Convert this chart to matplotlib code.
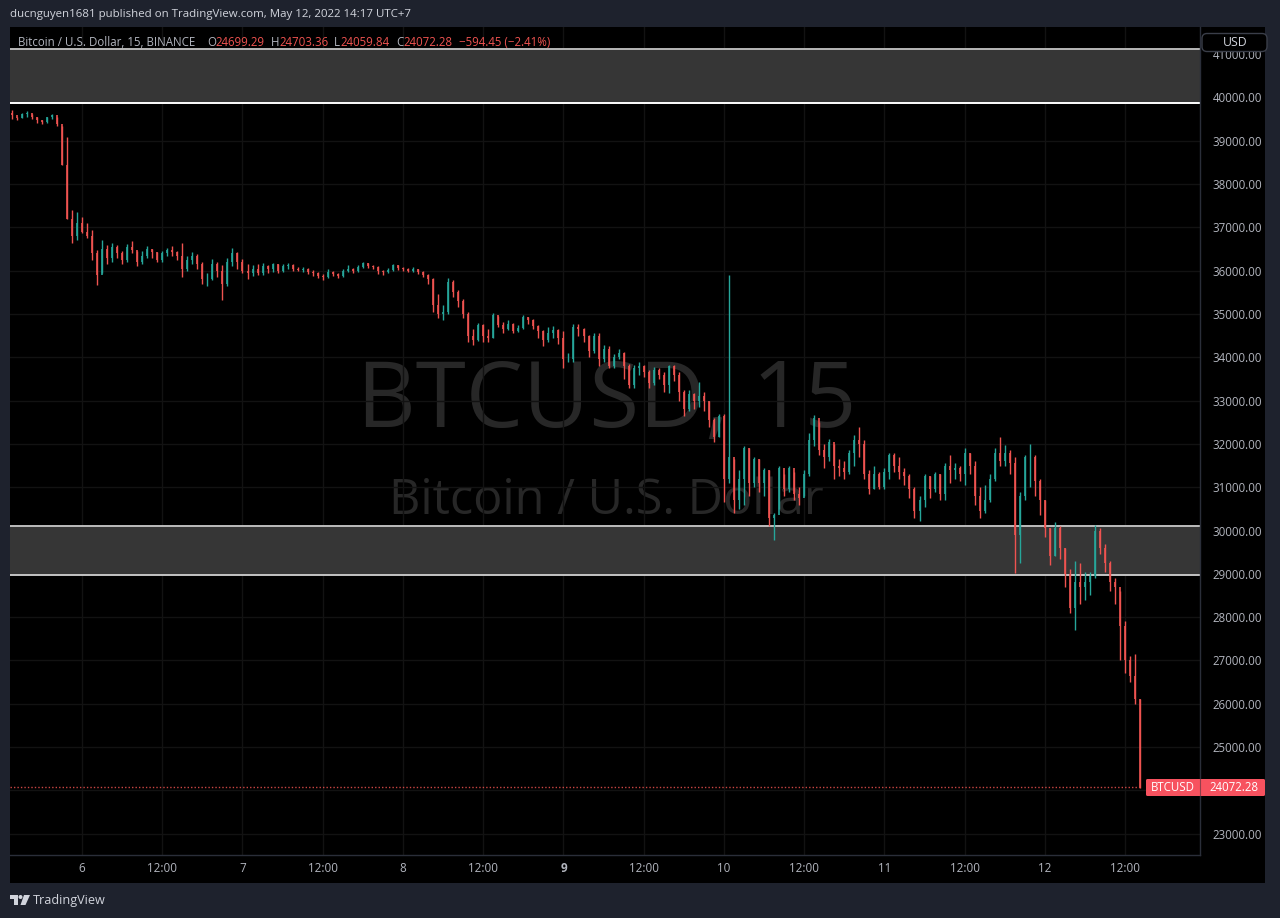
#
# BTCUSD 15 min chart, TradingView dark style
#

import numpy as np
import matplotlib
matplotlib.use("Agg")
import matplotlib.pyplot as plt

plt.rcParams["font.family"] = ["Open Sans", "DejaVu Sans"]

# one bar every 45 minutes, first bar at hour -10.5 (hour 0 = May 6 00:00)
first_hour = -10.5
bar_step = 0.75
first_open = 39650

closes = [
    39590, 39530, 39620, 39650, 39560, 39480, 39440, 39540, 39590, 39380, 38450, 37200, 36800, 37100,
    36900, 36800, 36400, 35900, 36500, 36300, 36550, 36400, 36250, 36550, 36480, 36200, 36350, 36500, 36420, 36250,
    36400, 36480, 36420, 36330, 36050, 36250, 36350, 36150, 35800, 35800, 36150, 36000, 35700, 36200, 36400, 36200,
    36000, 35950, 36050, 35950, 36100, 36050, 36150, 36000, 36100, 36130, 36050, 36020, 36040, 35980, 35950, 35880,
    35850, 35980, 35930, 35870, 36000, 36040, 35990, 36080, 36170, 36110, 36080, 36000, 35960, 36020, 36120, 36060,
    36040, 36000, 36030, 35980, 35900, 35800, 35200, 35000, 35050, 35750, 35500, 35300, 35000, 34500, 34400, 34750,
    34500, 34450, 34980, 34750, 34650, 34780, 34600, 34680, 34920, 34850, 34720, 34600, 34400, 34560, 34620, 34450,
    33950, 33950, 34700, 34650, 34500, 34150, 34500, 33950, 34200, 33800, 34000, 34100, 33800, 33350, 33750, 33800,
    33650, 33400, 33700, 33600, 33350, 33800, 33600, 33200, 32800, 33150, 33000, 33100, 33000, 32550, 32150, 32650,
    31200, 31700, 30700, 31200, 31900, 31100, 31650, 31100, 31400, 30300, 30350, 31450, 30950, 31450, 30850, 30750,
    31300, 32100, 32600, 31850, 31700, 32050, 31500, 31450, 31350, 31800, 32100, 32000, 31300, 30950, 31300, 31000,
    31350, 31750, 31500, 31350, 31250, 30950, 30450, 30700, 31250, 30950, 31300, 30850, 31500, 31400, 31450, 31300,
    31800, 31500, 30800, 30450, 30700, 31200, 31800, 31600, 31800, 31550, 29900, 30800, 31700, 31700, 31150, 30700,
    30050, 29400, 30050, 29600, 29000, 28200, 28800, 28700, 28800, 28950, 30000, 29600, 29250, 28800, 28700, 27800,
    27000, 26650, 26100, 24072.28,
]
highs = [
    39700, 39560, 39640, 39680, 39620, 39540, 39480, 39560, 39620, 39540, 39350, 39080, 37400, 37350,
    37240, 37100, 36950, 36480, 36700, 36600, 36650, 36600, 36450, 36620, 36680, 36450, 36450, 36560, 36500, 36420,
    36450, 36530, 36560, 36450, 36650, 36350, 36420, 36380, 36200, 35950, 36280, 36200, 36120, 36300, 36520, 36440,
    36270, 36150, 36120, 36150, 36170, 36130, 36180, 36150, 36150, 36180, 36150, 36090, 36080, 36060, 36010, 35960,
    35930, 36040, 36000, 35940, 36050, 36120, 36060, 36130, 36200, 36180, 36130, 36110, 36010, 36060, 36160, 36130,
    36080, 36060, 36090, 36040, 36000, 35920, 35820, 35450, 35200, 35820, 35780, 35550, 35350, 35050, 34650, 34800,
    34780, 34650, 35020, 34950, 34820, 34850, 34800, 34750, 34970, 34940, 34880, 34750, 34620, 34700, 34720, 34650,
    34600, 34100, 34780, 34780, 34680, 34520, 34560, 34550, 34280, 34250, 34080, 34180, 34120, 33850, 33820, 33880,
    33830, 33700, 33780, 33760, 33650, 33820, 33830, 33650, 33250, 33250, 33180, 33430, 33200, 33000, 32600, 32700,
    32700, 35900, 31650, 31400, 31950, 31900, 31700, 31650, 31450, 31400, 30400, 31500, 31300, 31500, 31350, 31000,
    31400, 32250, 32670, 32500, 32000, 32120, 32000, 31650, 31600, 31850, 32200, 32380, 32100, 31400, 31500, 31350,
    31450, 31800, 31800, 31700, 31450, 31300, 31000, 30800, 31300, 31250, 31350, 31300, 31550, 31750, 31550, 31500,
    31900, 31800, 31600, 31000, 31050, 31300, 31900, 32170, 31980, 31850, 31700, 30900, 31750, 32000, 31750, 31200,
    30700, 30050, 30200, 30100, 29600, 29100, 29300, 29250, 29050, 29050, 30130, 30050, 29700, 29300, 28900, 28600,
    27900, 27100, 27150, 26100,
]
lows = [
    39500, 39480, 39520, 39560, 39500, 39420, 39380, 39420, 39500, 39350, 38440, 37200, 36640, 36700,
    36870, 36750, 36250, 35670, 35950, 36150, 36200, 36300, 36150, 36200, 36400, 36100, 36150, 36300, 36300, 36200,
    36200, 36350, 36350, 36250, 35850, 36000, 36150, 36050, 35700, 35650, 35780, 35850, 35320, 35650, 36100, 36050,
    35950, 35800, 35880, 35900, 35900, 35950, 35980, 35950, 35980, 36040, 36000, 35990, 35980, 35930, 35880, 35820,
    35780, 35830, 35880, 35820, 35860, 35960, 35950, 35970, 36060, 36060, 36040, 35920, 35900, 35940, 36000, 36020,
    35990, 35960, 35980, 35930, 35860, 35700, 35050, 34900, 34850, 35000, 35400, 35150, 34900, 34350, 34290, 34380,
    34350, 34350, 34450, 34700, 34550, 34620, 34550, 34580, 34650, 34780, 34650, 34450, 34250, 34350, 34450, 34300,
    33750, 33880, 33900, 34500, 34350, 34000, 34100, 33800, 33900, 33750, 33750, 33950, 33500, 33280, 33300, 33600,
    33550, 33300, 33350, 33500, 33200, 33180, 33450, 33000, 32650, 32750, 32800, 32850, 32750, 32400, 32050, 32150,
    30650, 31100, 30400, 30500, 30600, 30800, 31000, 30900, 30800, 30100, 29790, 30500, 30800, 30900, 30700, 30600,
    30800, 31250, 31950, 31750, 31450, 31600, 31200, 31250, 31200, 31300, 31500, 31700, 31200, 30850, 30950, 30950,
    30950, 31200, 31350, 31200, 31050, 30750, 30300, 30220, 30550, 30750, 30900, 30700, 30700, 31100, 31200, 31150,
    31050, 31300, 30600, 30280, 30400, 30650, 31150, 31500, 31500, 31300, 29030, 29250, 30700, 31000, 30800, 30350,
    29850, 29200, 29400, 29350, 28700, 28100, 27700, 28300, 28400, 28500, 28900, 29450, 29050, 28600, 28300, 27000,
    26700, 26500, 26000, 24059.84,
]

price_ticks = list(range(23000, 42000, 1000))
time_ticks = [0, 12, 24, 36, 48, 60, 72, 84, 96, 108, 120, 132, 144, 156]
time_labels = ["6", "12:00", "7", "12:00", "8", "12:00", "9", "12:00", "10", "12:00", "11", "12:00", "12", "12:00"]

upper_zone = (39870, 41118)
lower_zone = (28973, 30104)
last_price = 24072.28

UP = "#26a69a"
DOWN = "#ef5350"
BG = "#1e222d"
TXT = "#b2b5be"

hours = first_hour + bar_step * np.arange(len(closes))
opens = np.array([first_open] + closes[:-1])
closes = np.array(closes)
colors = np.where(closes >= opens, UP, DOWN)

W, H = 1280, 918
fig = plt.figure(figsize=(W / 100, H / 100), dpi=100, facecolor=BG)

# overlay in pixel coordinates for the frame and texts
frame = fig.add_axes([0, 0, 1, 1], zorder=0)
frame.set_xlim(0, W)
frame.set_ylim(H, 0)
frame.axis("off")
frame.add_patch(plt.Rectangle((10, 27), 1255, 856, color="black", lw=0))

ax = fig.add_axes([10 / W, 1 - 855 / H, 1190 / W, 828 / H], zorder=1)
ax.set_facecolor("black")
ax.set_xlim(-10.77, 167.2)
ax.set_ylim(22507, 41627)
for name, spine in ax.spines.items():
    spine.set_visible(name in ("right", "bottom"))
    spine.set_color("#2a2e39")
    spine.set_linewidth(1)

ax.yaxis.tick_right()
ax.set_yticks(price_ticks)
# the 24000 label sits under the last price tag
ax.set_yticklabels(["" if p == 24000 else "%d.00" % p for p in price_ticks], fontsize=8.3, color=TXT)
ax.set_xticks(time_ticks)
ax.set_xticklabels(time_labels, fontsize=8.4, color=TXT)
ax.get_xticklabels()[6].set_fontweight("bold")
ax.tick_params(length=0)
ax.xaxis.set_tick_params(pad=5)
ax.yaxis.set_tick_params(pad=9)
ax.grid(True, color="#121212", lw=1)
ax.set_axisbelow(True)

# watermark
ax.text(0.501, 0.545, "BTCUSD, 15", transform=ax.transAxes, fontsize=65.5, color="#272727",
        ha="center", va="center", zorder=0.5)
ax.text(0.501, 0.4277, "Bitcoin / U.S. Dollar", transform=ax.transAxes, fontsize=35, color="#272727",
        ha="center", va="center", zorder=0.5)

# zones
for (lo, hi), top_col, bottom_col in [(upper_zone, "#b8b8b8", "#ffffff"), (lower_zone, "#bdbdbd", "#c4c4c4")]:
    ax.axhspan(lo, hi, color="#363636", lw=0, zorder=1)
    ax.axhline(hi, color=top_col, lw=1.4, zorder=1.5)
    ax.axhline(lo, color=bottom_col, lw=1.4, zorder=1.5)

# candles
ax.vlines(hours, lows, highs, colors=colors, lw=1.0, zorder=3)
ax.vlines(hours, np.minimum(opens, closes), np.maximum(opens, closes), colors=colors, lw=1.2, zorder=3)

ax.hlines(last_price, -10.77, hours[-1], color=DOWN, lw=1, linestyles=(0, (1, 1.5)), alpha=0.85, zorder=2)

# header and legend line
frame.text(10, 15, "ducnguyen1681 published on TradingView.com, May 12, 2022 14:17 UTC+7",
           fontsize=8.25, color="#d1d4dc", va="center")
overlay = fig.add_axes([0, 0, 1, 1], zorder=2)
overlay.set_xlim(0, W)
overlay.set_ylim(H, 0)
overlay.axis("off")
overlay.patch.set_alpha(0)

legend_parts = [(18, "Bitcoin / U.S. Dollar, 15, BINANCE", TXT), (207, "O", TXT), (215, "24699.29", DOWN),
                (271, "H", TXT), (279, "24703.36", DOWN), (334, "L", TXT), (340, "24059.84", DOWN),
                (396, "C", TXT), (403, "24072.28", DOWN), (459, "\u2212594.45 (\u22122.41%)", DOWN)]
for x0, s, c in legend_parts:
    overlay.text(x0, 42, s, fontsize=8.3, color=c, va="center")

# currency button
overlay.add_patch(matplotlib.patches.FancyBboxPatch((1202, 33.5), 65, 18, boxstyle="round,pad=0,rounding_size=5",
                                                     fc="black", ec="#3a3e49", lw=1))
overlay.text(1235, 42, "USD", fontsize=8.8, color="#d1d4dc", ha="center", va="center")

# last price tags
overlay.add_patch(matplotlib.patches.FancyBboxPatch((1146, 779), 119, 17, boxstyle="round,pad=0,rounding_size=1.5",
                                                     fc="#f7525f", ec="none"))
overlay.plot([1200, 1200], [779, 796], color="#2a2e39", lw=0.8, alpha=0.5)
overlay.text(1173, 787.5, "BTCUSD", fontsize=8.3, color="white", ha="center", va="center")
overlay.text(1233.5, 787.5, "24072.28", fontsize=8.3, color="white", ha="center", va="center")

# TradingView logo
logo = "#d1d4dc"
overlay.add_patch(plt.Polygon([(10, 895), (18, 895), (18, 905), (14, 905), (14, 899), (10, 899)], color=logo, lw=0))
overlay.add_patch(plt.Circle((20.5, 897), 2, color=logo, lw=0))
overlay.add_patch(plt.Polygon([(24, 895), (30, 895), (25.5, 905), (20.5, 905)], color=logo, lw=0))
overlay.text(33, 900.5, "TradingView", fontsize=9.1, color="#d1d4dc", va="center")

fig.savefig("out.png", dpi=100, facecolor=BG)
